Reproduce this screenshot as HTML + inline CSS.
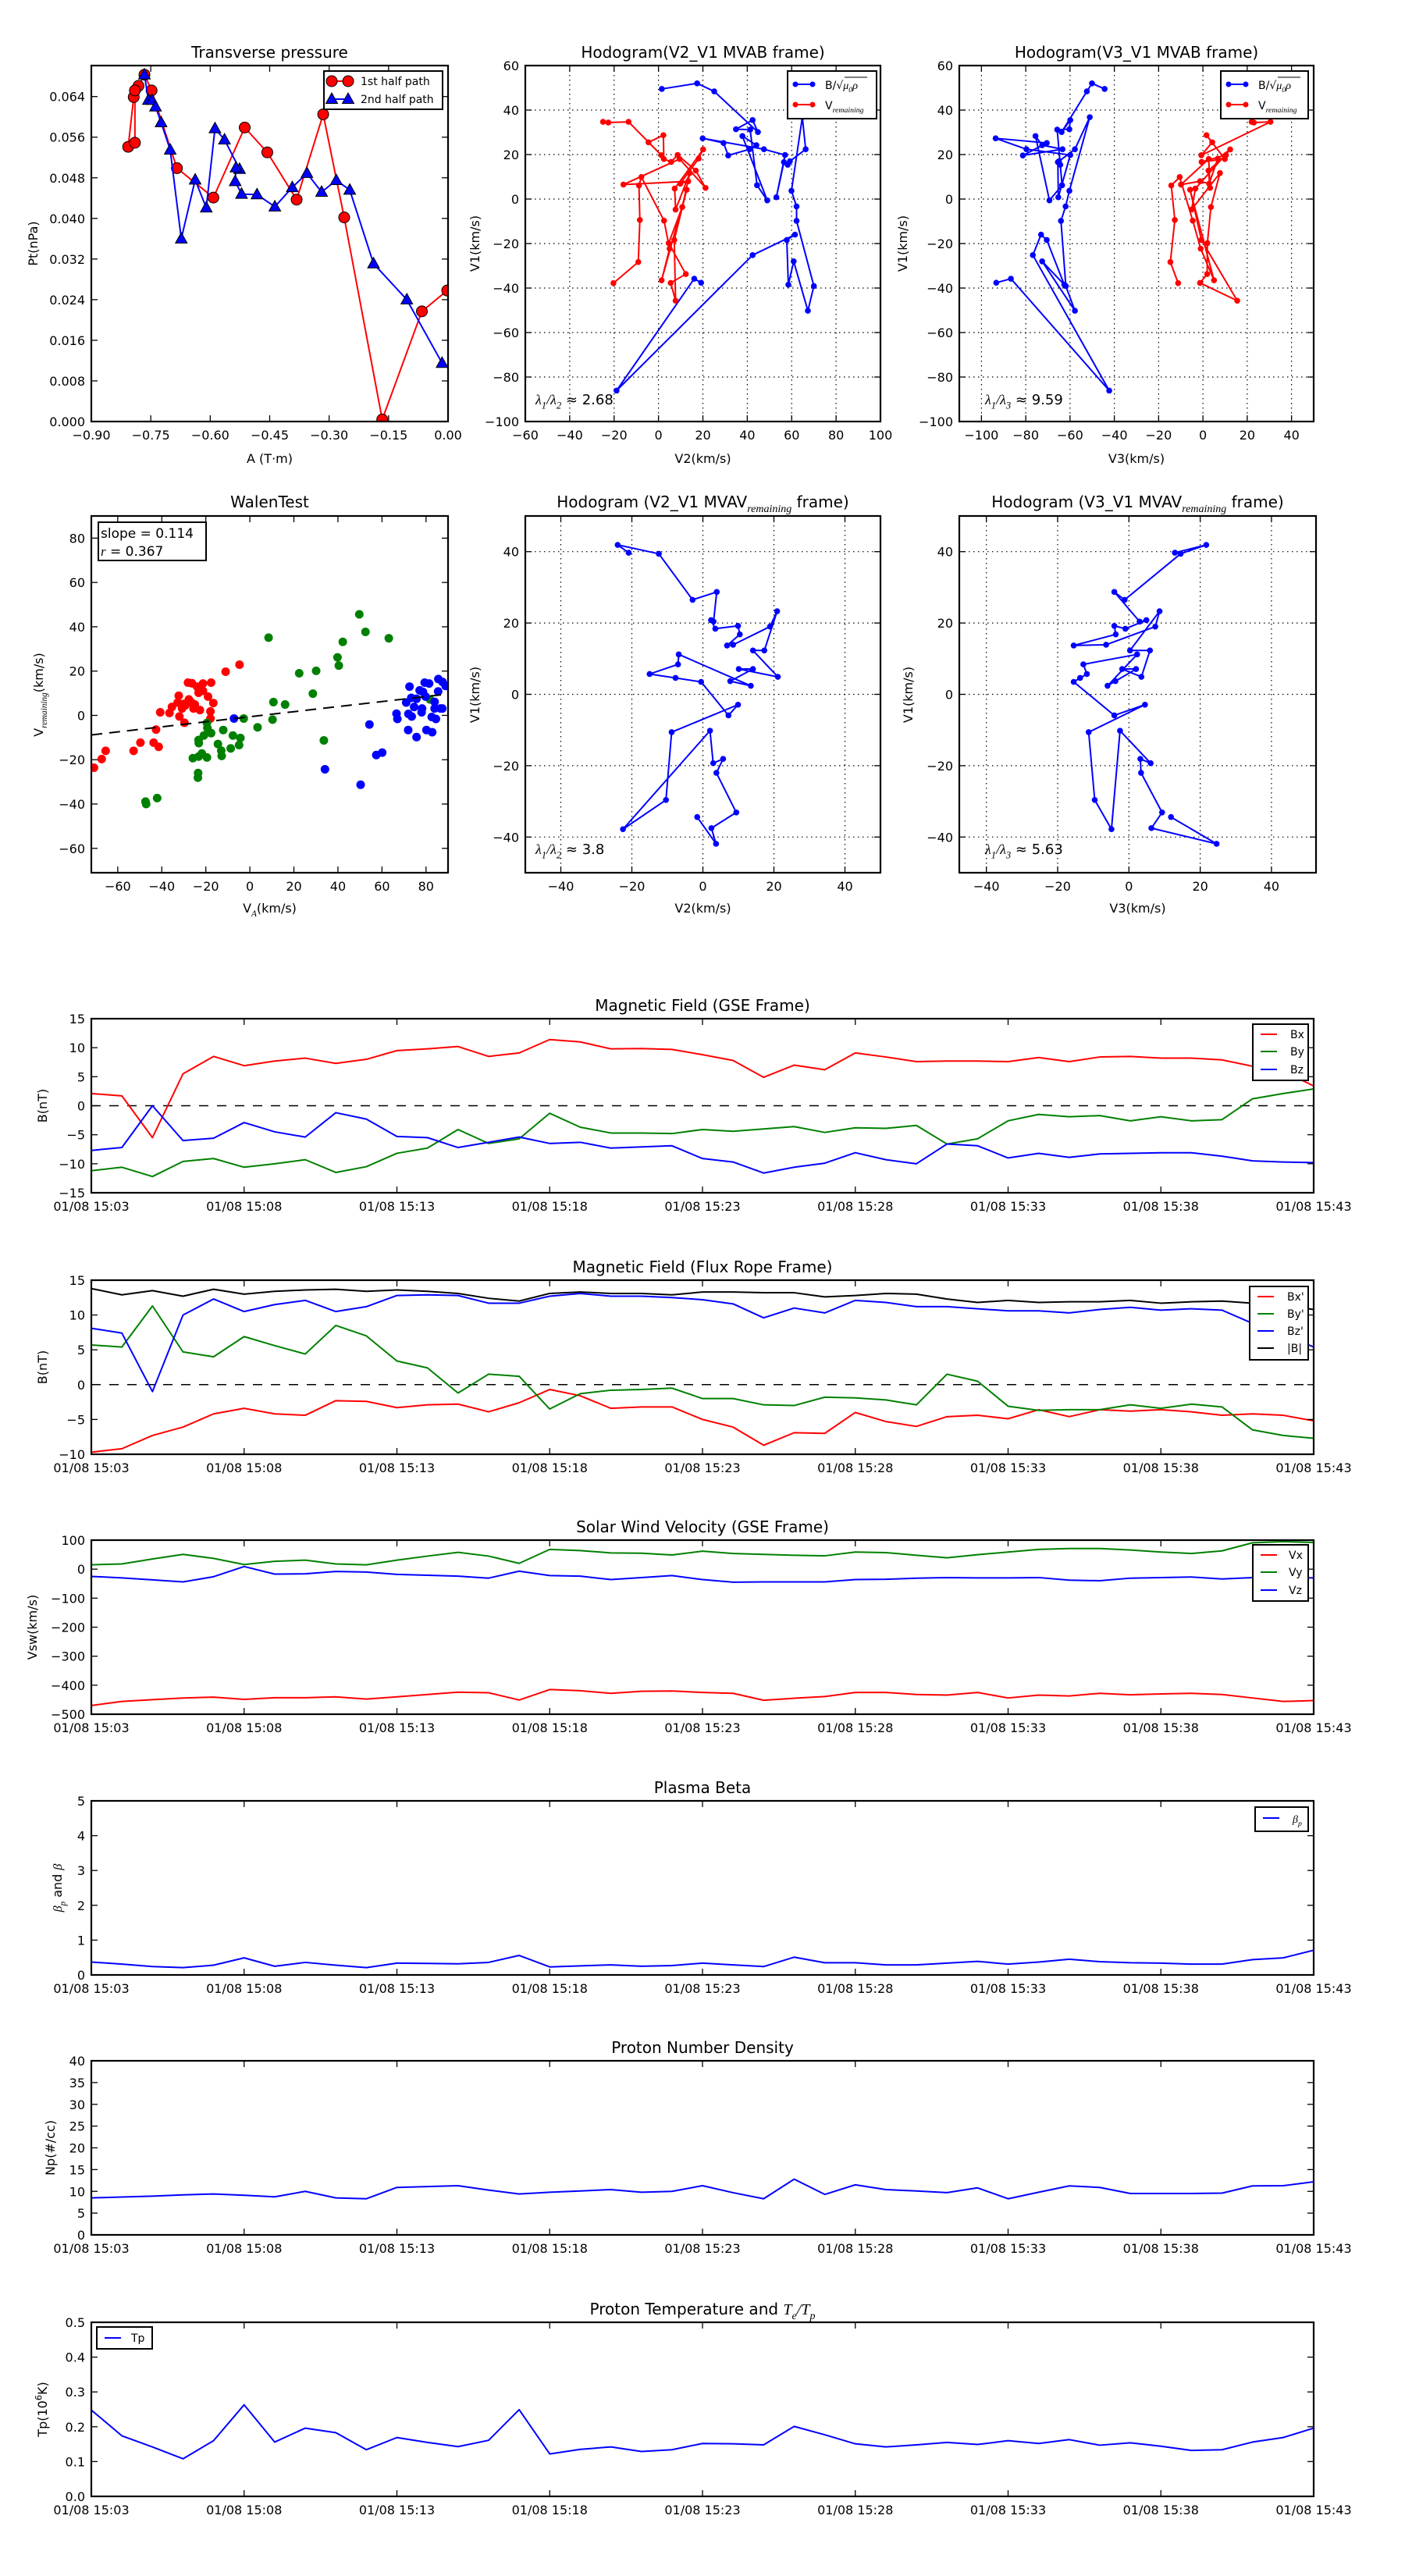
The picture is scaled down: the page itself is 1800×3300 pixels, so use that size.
<!DOCTYPE html>
<html><head><meta charset="utf-8">
<style>
html,body{margin:0;padding:0;background:#fff;}
svg{display:block;font-family:"DejaVu Sans","Liberation Sans",sans-serif;}
</style></head>
<body>
<svg id="fig" xmlns="http://www.w3.org/2000/svg" width="1800" height="3300" viewBox="0 0 1800 3300">
<rect x="0" y="0" width="1800" height="3300" fill="#fff"></rect>
</svg>
<script>
// ---------------- DATA ----------------
// Transverse pressure
const pt1A = [-0.002,-0.066,-0.166,-0.262,-0.315,-0.382,-0.456,-0.513,-0.592,-0.684,-0.748,-0.766,-0.781,-0.793,-0.807,-0.790,-0.790];
const pt1P = [0.0258,0.0217,0.0004,0.0402,0.0605,0.0437,0.0530,0.0579,0.0441,0.0499,0.0652,0.0683,0.0661,0.0639,0.0541,0.0549,0.0652];
const pt2A = [-0.766,-0.756,-0.747,-0.738,-0.724,-0.701,-0.673,-0.638,-0.610,-0.588,-0.564,-0.526,-0.535,-0.537,-0.521,-0.482,-0.437,-0.393,-0.356,-0.319,-0.282,-0.248,-0.188,-0.104,-0.015];
const pt2P = [0.0683,0.0633,0.0633,0.0620,0.0589,0.0535,0.0360,0.0476,0.0421,0.0577,0.0555,0.0497,0.0500,0.0473,0.0448,0.0447,0.0423,0.0461,0.0489,0.0452,0.0475,0.0456,0.0311,0.0240,0.0115];
const ptXTicks = [-0.90,-0.75,-0.60,-0.45,-0.30,-0.15,0.00];
const ptXLabels = ['\u22120.90','\u22120.75','\u22120.60','\u22120.45','\u22120.30','\u22120.15','0.00'];
const ptYTicks = [0,0.008,0.016,0.024,0.032,0.040,0.048,0.056,0.064];
const ptYLabels = ['0.000','0.008','0.016','0.024','0.032','0.040','0.048','0.056','0.064'];

// MVAB hodograms
const mvabBV1 = [49.5,52.0,48.4,30.1,35.5,31.4,31.2,6.2,-0.6,28.3,24.2,22.4,19.6,25.2,27.3,22.4,19.8,0.8,16.6,15.4,17.0,22.4,36.8,3.7,-3.3,-9.8,-39.1,-50.2,-28.0,-38.5,-18.4,-16.0,-25.2,-86.1,-35.8,-37.6];
const mvabBV2 = [1.5,17.4,25.1,44.8,42.4,34.9,41.3,44.4,49.0,37.8,44.1,41.0,31.4,29.3,19.9,47.5,57.0,53.1,56.5,58.2,59.2,66.3,64.8,59.9,62.2,62.2,70.0,67.3,60.9,58.5,57.8,61.5,42.4,-18.9,16.1,19.2];
const mvabBV3 = [-44.4,-50.1,-52.4,-63.8,-59.9,-60.3,-65.8,-63.6,-69.3,-75.6,-72.6,-63.4,-81.3,-70.5,-93.6,-79.7,-59.9,-65.3,-65.5,-64.4,-65.0,-57.8,-51.1,-60.3,-62.0,-64.1,-61.9,-57.8,-72.6,-62.6,-70.5,-73.1,-76.8,-42.3,-86.7,-93.3];
const mvabVV1 = [34.7,34.4,34.7,19.7,25.5,28.7,18.0,16.7,19.8,12.8,5.0,18.0,6.5,8.0,6.9,18.2,22.3,4.7,-4.7,11.7,-3.6,-19.8,-33.7,-37.7,-45.7,-18.4,4.2,-36.5,-22.3,-9.7,9.9,6.1,-9.4,-28.3,-37.8];
const mvabVV2 = [-25.0,-22.6,-13.5,1.3,-4.5,2.2,2.4,5.7,8.6,16.8,21.2,9.5,-15.8,13.4,9.8,18.1,20.1,7.3,7.7,14.1,10.7,4.6,12.3,5.5,7.7,7.1,12.7,1.4,5.0,2.5,-7.7,-8.8,-8.4,-9.1,-20.3];
const mvabVV3 = [22.0,23.0,30.5,-0.7,4.2,1.6,9.9,-0.6,10.4,2.5,3.2,2.6,-9.9,-1.3,2.8,6.7,12.3,-3.4,-5.1,7.7,3.6,2.0,1.9,-1.3,15.5,-0.7,-5.8,5.0,-1.0,-4.6,-10.5,-14.3,-12.7,-14.7,-11.2];

// MVAV hodograms
const mvavV1 = [39.7,41.9,39.4,26.5,28.7,20.4,20.8,18.4,19.2,16.8,13.7,13.9,19.0,23.3,12.3,12.3,4.9,7.1,7.1,3.7,2.4,11.2,8.4,5.7,4.6,3.5,-5.9,-2.9,-10.6,-29.6,-37.8,-10.2,-19.3,-18.1,-22.0,-33.1,-37.5,-41.9,-34.4];
const mvavV2 = [-20.9,-24.0,-12.4,-2.9,3.9,3.0,2.3,3.5,9.9,10.4,6.8,8.5,18.9,20.9,17.3,14.1,21.1,10.1,14.1,7.7,13.5,-6.8,-7.0,-15.0,-7.7,-0.5,7.2,9.9,-8.8,-10.4,-22.5,2.0,2.9,5.7,3.8,9.4,2.4,3.7,-1.6];
const mvavV3 = [12.9,21.7,14.5,-1.2,-4.1,3.0,4.9,-1.0,-4.1,-3.7,-15.5,-6.4,7.4,8.6,0.3,5.9,3.5,-1.9,2.0,-3.8,-6.0,2.3,-12.8,-11.8,-13.7,-15.5,-4.1,4.5,-11.3,-9.6,-4.9,-2.5,6.1,3.2,3.4,9.3,6.3,24.6,11.8];

// Walen test
const walenRedX = [-70.8,-67.3,-65.5,-52.8,-49.7,-43.7,-41.4,-42.6,-40.7,-36.5,-35.4,-32.3,-32.0,-29.7,-32.8,-30.1,-27.7,-28.1,-26.3,-24.0,-21.3,-17.6,-21.3,-23.3,-19.0,-16.6,-25.6,-22.7,-17.9,-17.9,-29.4,-25.0,-11.0,-4.7,-26.5,-30.8];
const walenRedY = [-23.6,-19.7,-16.0,-16.0,-12.3,-12.3,-14.2,-6.4,1.4,1.1,3.8,8.9,-0.5,-3.3,5.8,5.2,7.2,14.8,14.5,13.0,14.4,14.8,11.1,10.2,8.5,5.6,3.1,2.4,1.8,-1.4,4.5,4.9,19.7,22.9,5.8,3.1];
const walenGreenX = [-47.4,-47.1,-42.1,-23.6,-23.5,-25.9,-23.3,-21.8,-19.5,-23.2,-23.3,-20.9,-17.6,-19.5,-19.3,-14.5,-13.0,-12.8,-8.7,-7.7,-4.9,-4.3,-12.1,-2.8,3.5,8.5,10.7,10.3,16.0,22.4,30.1,28.6,33.6,39.8,40.4,42.2,49.7,52.5,63.1,81.8];
const walenGreenY = [-38.9,-40.0,-37.3,-28.1,-26.0,-19.3,-18.6,-17.2,-19.0,-12.5,-11.1,-9.1,-8.0,-3.4,-5.7,-12.9,-15.9,-18.3,-14.9,-9.1,-13.4,-10.2,-6.6,-1.4,-5.4,35.1,6.0,-1.9,4.9,19.0,20.1,9.8,-11.3,26.2,22.5,33.2,45.6,37.7,34.8,7.2];
const walenBlueX = [-7.2,34.1,50.3,54.3,57.4,60.1,66.6,67.0,71.0,71.9,72.0,72.5,73.5,73.3,75.7,74.6,77.1,78.6,79.4,81.4,78.2,78.0,80.2,82.8,82.6,84.5,83.9,85.5,85.6,83.9,87.4,87.5,88.9,75.7,79.8,86.6];
const walenBlueY = [-1.4,-24.3,-31.3,-4.1,-17.9,-16.8,0.8,-1.6,5.8,-6.6,0.7,13.0,-0.5,7.9,-9.8,3.8,11.3,10.6,14.8,14.4,3.1,1.4,-6.6,-7.6,-0.7,-1.6,6.1,10.8,16.4,3.1,3.1,15.1,13.3,7.5,8.5,3.1];
const walenSlope = [0.114];
const walenIntercept = [-0.6];

// Time series (1-min cadence, 15:03 .. 15:43)
const tsMinute = [0,1,2,3,4,5,6,7,8,9,10,11,12,13,14,15,16,17,18,19,20,21,22,23,24,25,26,27,28,29,30,31,32,33,34,35,36,37,38,39,40];
const tsTickIdx = [0,5,10,15,20,25,30,35,40];
const tsTickLabels = ['01/08 15:03','01/08 15:08','01/08 15:13','01/08 15:18','01/08 15:23','01/08 15:28','01/08 15:33','01/08 15:38','01/08 15:43'];
const gseBx = [2.1,1.7,-5.5,5.5,8.5,6.9,7.7,8.2,7.3,8.0,9.5,9.8,10.2,8.5,9.1,11.4,11.0,9.8,9.85,9.7,8.8,7.8,4.9,7.0,6.2,9.1,8.4,7.6,7.7,7.7,7.6,8.3,7.6,8.4,8.5,8.2,8.2,7.9,6.8,6.0,3.4];
const gseBy = [-11.2,-10.6,-12.2,-9.6,-9.1,-10.6,-10.0,-9.3,-11.5,-10.5,-8.2,-7.3,-4.1,-6.5,-5.7,-1.3,-3.7,-4.7,-4.7,-4.8,-4.1,-4.4,-4.0,-3.6,-4.6,-3.8,-3.9,-3.4,-6.6,-5.7,-2.6,-1.5,-1.9,-1.7,-2.6,-1.9,-2.6,-2.4,1.2,2.1,2.9];
const gseBz = [-7.7,-7.2,0,-6.0,-5.6,-2.9,-4.5,-5.4,-1.2,-2.3,-5.3,-5.5,-7.2,-6.3,-5.4,-6.5,-6.3,-7.3,-7.1,-6.9,-9.1,-9.7,-11.6,-10.6,-9.9,-8.1,-9.3,-10.0,-6.6,-6.9,-9.0,-8.2,-8.9,-8.3,-8.2,-8.1,-8.1,-8.7,-9.5,-9.7,-9.8];
const frBx = [-9.7,-9.2,-7.3,-6.1,-4.2,-3.4,-4.2,-4.4,-2.3,-2.4,-3.3,-2.9,-2.8,-3.9,-2.6,-0.7,-1.6,-3.4,-3.2,-3.2,-5.0,-6.1,-8.7,-6.9,-7.0,-4.0,-5.3,-6.0,-4.6,-4.4,-4.9,-3.6,-4.6,-3.6,-3.8,-3.6,-3.9,-4.4,-4.2,-4.4,-5.2];
const frBy = [5.7,5.4,11.3,4.7,4.0,6.9,5.6,4.4,8.5,7.0,3.4,2.4,-1.2,1.5,1.2,-3.5,-1.3,-0.8,-0.7,-0.5,-2.0,-2.0,-2.9,-3.0,-1.8,-1.9,-2.2,-2.9,1.5,0.5,-3.1,-3.7,-3.6,-3.6,-2.9,-3.4,-2.8,-3.2,-6.5,-7.3,-7.7];
const frBz = [8.1,7.4,-1.0,10.0,12.3,10.5,11.5,12.1,10.5,11.2,12.8,12.9,12.8,11.7,11.7,12.7,13.1,12.7,12.7,12.5,12.2,11.6,9.6,11.0,10.3,12.1,11.8,11.2,11.2,10.9,10.6,10.6,10.3,10.8,11.1,10.7,10.9,10.7,8.8,7.2,5.4];
const frBt = [13.8,12.9,13.5,12.7,13.7,13.0,13.4,13.6,13.7,13.4,13.6,13.4,13.1,12.4,12.0,13.1,13.3,13.1,13.1,12.9,13.3,13.3,13.2,13.2,12.6,12.8,13.1,13.0,12.3,11.8,12.1,11.8,11.9,11.9,12.1,11.7,11.9,12.0,11.7,11.4,10.8];
const swVx = [-470,-456,-450,-444,-441,-449,-443,-443,-440,-448,-440,-432,-424,-426,-451,-415,-419,-428,-421,-420,-425,-428,-452,-445,-439,-425,-425,-432,-434,-425,-444,-434,-437,-428,-433,-430,-428,-432,-444,-456,-453];
const swVy = [15,18,35,51,37,16,27,31,18,15,31,45,58,45,20,68,64,56,55,49,62,54,51,48,46,59,57,48,39,50,59,68,71,71,66,59,54,63,91,95,92];
const swVz = [-25,-30,-37,-44,-26,9,-17,-16,-8,-10,-18,-21,-24,-31,-7,-22,-24,-36,-29,-22,-36,-45,-44,-44,-44,-36,-35,-31,-29,-30,-30,-29,-38,-40,-31,-29,-27,-34,-29,-29,-30];
const betaP = [0.37,0.31,0.24,0.21,0.28,0.49,0.25,0.36,0.28,0.21,0.34,0.33,0.32,0.36,0.56,0.23,0.26,0.29,0.25,0.27,0.34,0.29,0.24,0.51,0.35,0.35,0.29,0.29,0.34,0.39,0.31,0.37,0.45,0.38,0.35,0.34,0.31,0.31,0.44,0.49,0.71];
const densNp = [8.5,8.7,8.9,9.2,9.4,9.1,8.75,10.0,8.5,8.3,10.9,11.1,11.3,10.3,9.4,9.8,10.1,10.4,9.8,10.0,11.3,9.7,8.3,12.8,9.3,11.5,10.4,10.1,9.7,10.8,8.3,9.8,11.25,10.9,9.5,9.5,9.5,9.6,11.25,11.3,12.2];
const tempTp = [0.248,0.174,0.142,0.108,0.160,0.263,0.156,0.196,0.183,0.134,0.169,0.155,0.143,0.161,0.249,0.122,0.135,0.142,0.129,0.134,0.152,0.151,0.148,0.201,0.177,0.151,0.142,0.148,0.155,0.149,0.160,0.152,0.163,0.147,0.154,0.144,0.132,0.134,0.156,0.169,0.196];

// ---------------- DRAWING ----------------
const NS = 'http://www.w3.org/2000/svg';
const svg = document.getElementById('fig');
function make(tag, attrs, parent){
  const e = document.createElementNS(NS, tag);
  for (const k in attrs) e.setAttribute(k, attrs[k]);
  parent.appendChild(e);
  return e;
}
const RED='#ff0000', GREEN='#008000', BLUE='#0000ff';
let clipCount = 0;

function setupPanel(name, box, xr, yr){
  const g = make('g', {}, svg);
  
  
  const sx = v => box.x + (v - xr[0]) / (xr[1] - xr[0]) * box.w;
  const sy = v => box.y + box.h - (v - yr[0]) / (yr[1] - yr[0]) * box.h;
  const id = 'clip' + (clipCount++);
  const cp = make('clipPath', {id: id}, g);
  make('rect', {x: box.x, y: box.y, width: box.w, height: box.h}, cp);
  const grid = make('g', {}, g);
  
  
  const plot = make('g', {'clip-path': 'url(#' + id + ')'}, g);
  
  
  return {g, grid, plot, sx, sy, box};
}

function text(parent, x, y, str, size, anchor, name){
  const t = make('text', {x: x, y: y, 'font-size': size, 'text-anchor': anchor || 'middle', fill: '#000'}, parent);
  t.textContent = str;
  
  
  return t;
}

// parts: array of [string, style] where style in '', 'sub', 'it', 'subit', 'sup'
function rich(parent, x, y, parts, size, anchor, name, rotate){
  const attrs = {x: x, y: y, 'font-size': size, 'text-anchor': anchor || 'middle', fill: '#000'};
  if (rotate) attrs.transform = 'rotate(-90 ' + x + ' ' + y + ')';
  const t = make('text', attrs, parent);
  
  
  let shift = 0;
  parts.forEach(p => {
    const s = p[1] || '';
    const a = {};
    let target = 0;
    if (s.indexOf('sub') >= 0){ target = size * 0.3; a['font-size'] = size * 0.7; }
    if (s.indexOf('sup') >= 0){ target = -size * 0.4; a['font-size'] = size * 0.7; }
    if (s.indexOf('it') >= 0){ a['font-style'] = 'italic'; a['font-family'] = '"Liberation Serif", serif'; }
    a.dy = target - shift;
    shift = target;
    const ts = make('tspan', a, t);
    ts.textContent = p[0];
  });
  return t;
}

function finishPanel(P, o){
  const b = P.box;
  const tl = 8;
  if (o.grid){
    o.xticks.forEach(v => {
      const x = P.sx(v);
      const l = make('line', {x1: x, x2: x, y1: b.y, y2: b.y + b.h, stroke: '#000', 'stroke-width': 1.2, 'stroke-dasharray': '1.5,4.5'}, P.grid);
      
      
    });
    o.yticks.forEach(v => {
      const y = P.sy(v);
      const l = make('line', {x1: b.x, x2: b.x + b.w, y1: y, y2: y, stroke: '#000', 'stroke-width': 1.2, 'stroke-dasharray': '1.5,4.5'}, P.grid);
      
      
    });
  }
  const ax = make('g', {}, P.g);
  
  
  o.xticks.forEach((v, i) => {
    const x = P.sx(v);
    const t1 = make('line', {x1: x, x2: x, y1: b.y + b.h, y2: b.y + b.h - tl, stroke: '#000', 'stroke-width': 1.3}, ax);
    
    
    const t2 = make('line', {x1: x, x2: x, y1: b.y, y2: b.y + tl, stroke: '#000', 'stroke-width': 1.3}, ax);
    
    
    text(ax, x, b.y + b.h + 23, o.xlabels[i], 16, 'middle', 'x-tick-label');
  });
  o.yticks.forEach((v, i) => {
    const y = P.sy(v);
    const t1 = make('line', {x1: b.x, x2: b.x + tl, y1: y, y2: y, stroke: '#000', 'stroke-width': 1.3}, ax);
    
    
    const t2 = make('line', {x1: b.x + b.w, x2: b.x + b.w - tl, y1: y, y2: y, stroke: '#000', 'stroke-width': 1.3}, ax);
    
    
    text(ax, b.x - 8, y + 6, o.ylabels[i], 16, 'end', 'y-tick-label');
  });
  const fr = make('rect', {x: b.x, y: b.y, width: b.w, height: b.h, fill: 'none', stroke: '#000', 'stroke-width': 2.2}, ax);
  
  
}

function line(P, xs, ys, color, width, name, dash){
  const pts = xs.map((x, i) => P.sx(x).toFixed(2) + ',' + P.sy(ys[i]).toFixed(2)).join(' ');
  const a = {points: pts, fill: 'none', stroke: color, 'stroke-width': width, 'stroke-linejoin': 'round'};
  if (dash) a['stroke-dasharray'] = dash;
  const pl = make('polyline', a, P.plot);
  
  
  return pl;
}
function dots(P, xs, ys, color, r, name, stroke){
  const g = make('g', {}, P.plot);
  
  
  xs.forEach((x, i) => {
    const a = {cx: P.sx(x), cy: P.sy(ys[i]), r: r, fill: color};
    if (stroke){ a.stroke = '#000'; a['stroke-width'] = 1; }
    const c = make('circle', a, g);
    
    
  });
}
function tris(P, xs, ys, color, name){
  const g = make('g', {}, P.plot);
  
  
  xs.forEach((x, i) => {
    const cx = P.sx(x), cy = P.sy(ys[i]);
    const p = make('polygon', {points: cx + ',' + (cy - 8) + ' ' + (cx + 7.5) + ',' + (cy + 5.5) + ' ' + (cx - 7.5) + ',' + (cy + 5.5), fill: color, stroke: '#000', 'stroke-width': 1}, g);
    
    
  });
}
function legendBox(x, y, w, h, name){
  const g = make('g', {}, svg);
  
  
  const r = make('rect', {x: x, y: y, width: w, height: h, fill: '#fff', stroke: '#000', 'stroke-width': 2}, g);
  
  
  return g;
}
function legendLine(g, x1, x2, y, color, name, marker){
  const l = make('line', {x1: x1, x2: x2, y1: y, y2: y, stroke: color, 'stroke-width': 2}, g);
  
  
  if (marker === 'dot'){
    [x1, x2].forEach(xx => { const c = make('circle', {cx: xx, cy: y, r: 3.5, fill: color}, g);   });
  } else if (marker === 'circle'){
    [x1, x2].forEach(xx => { const c = make('circle', {cx: xx, cy: y, r: 7, fill: color, stroke: '#000', 'stroke-width': 1}, g);   });
  } else if (marker === 'tri'){
    [x1, x2].forEach(xx => { const p = make('polygon', {points: xx + ',' + (y - 8) + ' ' + (xx + 7.5) + ',' + (y + 5.5) + ' ' + (xx - 7.5) + ',' + (y + 5.5), fill: color, stroke: '#000', 'stroke-width': 1}, g);   });
  }
}

const ticks20 = (arr) => arr.map(v => v < 0 ? '\u2212' + Math.abs(v) : String(v));

// ---- Panel 1: Transverse pressure ----
(function(){
  const box = {x: 117, y: 84, w: 457, h: 456};
  const P = setupPanel('transverse-pressure-chart', box, [-0.9, 0], [0, 0.0701]);
  line(P, pt1A, pt1P, RED, 2, 'first-half-path-line');
  dots(P, pt1A, pt1P, RED, 7, 'first-half-path', true);
  line(P, pt2A, pt2P, BLUE, 2, 'second-half-path-line');
  tris(P, pt2A, pt2P, BLUE, 'second-half-path');
  finishPanel(P, {xticks: ptXTicks, xlabels: ptXLabels, yticks: ptYTicks, ylabels: ptYLabels});
  text(P.g, box.x + box.w / 2, 74, 'Transverse pressure', 20, 'middle', 'chart-title');
  text(P.g, box.x + box.w / 2, 593, 'A (T\u00b7m)', 16, 'middle', 'x-axis-title');
  rich(P.g, 48, 312, [['Pt(nPa)', '']], 16, 'middle', 'y-axis-title', true);
  const L = legendBox(415, 91, 152, 49, 'pressure-legend');
  legendLine(L, 425, 446, 104, RED, 'legend-first-half', 'circle');
  text(L, 462, 109, '1st half path', 14, 'start', 'legend-label-first-half');
  legendLine(L, 425, 446, 127, BLUE, 'legend-second-half', 'tri');
  text(L, 462, 132, '2nd half path', 14, 'start', 'legend-label-second-half');
})();

function hodoLegend(x, w, name){
  const L = legendBox(x, 91, w, 61, name);
  legendLine(L, x + 10, x + 32, 108, BLUE, 'legend-b-alfven', 'dot');
  rich(L, x + 48, 114, [['B/\u221a', ''], ['\u03bc', 'it'], ['0', 'subit'], ['\u03c1', 'it']], 14, 'start', 'legend-label-b-alfven');
  const ol = make('line', {x1: x + 73, x2: x + 102, y1: 99, y2: 99, stroke: '#000', 'stroke-width': 1}, L);
  
  
  legendLine(L, x + 10, x + 32, 134, RED, 'legend-v-remaining', 'dot');
  rich(L, x + 48, 140, [['V', ''], ['remaining', 'subit']], 14, 'start', 'legend-label-v-remaining');
}

// ---- Panel 2: Hodogram V2_V1 MVAB ----
(function(){
  const box = {x: 673, y: 84, w: 455, h: 456};
  const P = setupPanel('hodogram-v2-v1-mvab', box, [-60, 100], [-100, 60]);
  const xt = [-60,-40,-20,0,20,40,60,80,100], yt = [-100,-80,-60,-40,-20,0,20,40,60];
  line(P, mvabBV2, mvabBV1, BLUE, 2, 'b-alfven-path');
  dots(P, mvabBV2, mvabBV1, BLUE, 3.8, 'b-alfven');
  line(P, mvabVV2, mvabVV1, RED, 2, 'v-remaining-path');
  dots(P, mvabVV2, mvabVV1, RED, 3.8, 'v-remaining');
  finishPanel(P, {grid: true, xticks: xt, xlabels: ticks20(xt), yticks: yt, ylabels: ticks20(yt)});
  text(P.g, box.x + box.w / 2, 74, 'Hodogram(V2_V1 MVAB frame)', 20, 'middle', 'chart-title');
  text(P.g, box.x + box.w / 2, 593, 'V2(km/s)', 16, 'middle', 'x-axis-title');
  rich(P.g, 614, 312, [['V1(km/s)', '']], 16, 'middle', 'y-axis-title', true);
  rich(P.g, 686, 518, [['\u03bb', 'it'], ['1', 'subit'], ['/', 'it'], ['\u03bb', 'it'], ['2', 'subit'], [' \u2248 2.68', '']], 18, 'start', 'eigenvalue-ratio');
  hodoLegend(1009, 114, 'hodogram-v2-legend');
})();

// ---- Panel 3: Hodogram V3_V1 MVAB ----
(function(){
  const box = {x: 1229, y: 84, w: 454, h: 456};
  const P = setupPanel('hodogram-v3-v1-mvab', box, [-110, 50], [-100, 60]);
  const xt = [-100,-80,-60,-40,-20,0,20,40], yt = [-100,-80,-60,-40,-20,0,20,40,60];
  line(P, mvabBV3, mvabBV1, BLUE, 2, 'b-alfven-path');
  dots(P, mvabBV3, mvabBV1, BLUE, 3.8, 'b-alfven');
  line(P, mvabVV3, mvabVV1, RED, 2, 'v-remaining-path');
  dots(P, mvabVV3, mvabVV1, RED, 3.8, 'v-remaining');
  finishPanel(P, {grid: true, xticks: xt, xlabels: ticks20(xt), yticks: yt, ylabels: ticks20(yt)});
  text(P.g, box.x + box.w / 2, 74, 'Hodogram(V3_V1 MVAB frame)', 20, 'middle', 'chart-title');
  text(P.g, box.x + box.w / 2, 593, 'V3(km/s)', 16, 'middle', 'x-axis-title');
  rich(P.g, 1162, 312, [['V1(km/s)', '']], 16, 'middle', 'y-axis-title', true);
  rich(P.g, 1262, 518, [['\u03bb', 'it'], ['1', 'subit'], ['/', 'it'], ['\u03bb', 'it'], ['3', 'subit'], [' \u2248 9.59', '']], 18, 'start', 'eigenvalue-ratio');
  hodoLegend(1564, 112, 'hodogram-v3-legend');
})();

// ---- Walen test ----
(function(){
  const box = {x: 117, y: 661, w: 457, h: 457};
  const P = setupPanel('walen-test-chart', box, [-72, 90], [-71, 90]);
  const xt = [-60,-40,-20,0,20,40,60,80], yt = [-60,-40,-20,0,20,40,60,80];
  dots(P, walenRedX, walenRedY, RED, 5.5, 'walen-red');
  dots(P, walenGreenX, walenGreenY, GREEN, 5.5, 'walen-green');
  dots(P, walenBlueX, walenBlueY, BLUE, 5.5, 'walen-blue');
  const fx = [-72, 90];
  const fy = fx.map(x => walenSlope[0] * x + walenIntercept[0]);
  line(P, fx, fy, '#000', 2, 'walen-fit-line', '14,9');
  finishPanel(P, {xticks: xt, xlabels: ticks20(xt), yticks: yt, ylabels: ticks20(yt)});
  text(P.g, box.x + box.w / 2, 650, 'WalenTest', 20, 'middle', 'chart-title');
  rich(P.g, box.x + box.w / 2, 1169, [['V', ''], ['A', 'subit'], ['(km/s)', '']], 16, 'middle', 'x-axis-title');
  rich(P.g, 55, 890, [['V', ''], ['remaining', 'subit'], ['(km/s)', '']], 16, 'middle', 'y-axis-title', true);
  const r = make('rect', {x: 126, y: 669, width: 138, height: 49, fill: '#fff', stroke: '#000', 'stroke-width': 2}, P.g);
  
  
  text(P.g, 129, 689, 'slope = 0.114', 17, 'start', 'slope-label');
  rich(P.g, 129, 712, [['r', 'it'], [' = 0.367', '']], 17, 'start', 'correlation-label');
})();

// ---- MVAV hodograms ----
(function(){
  const box = {x: 673, y: 661, w: 455, h: 457};
  const P = setupPanel('hodogram-v2-v1-mvav', box, [-50, 50], [-50, 50]);
  const xt = [-40,-20,0,20,40], yt = [-40,-20,0,20,40];
  line(P, mvavV2, mvavV1, BLUE, 2, 'v-remaining-path');
  dots(P, mvavV2, mvavV1, BLUE, 3.8, 'v-remaining');
  finishPanel(P, {grid: true, xticks: xt, xlabels: ticks20(xt), yticks: yt, ylabels: ticks20(yt)});
  rich(P.g, box.x + box.w / 2, 650, [['Hodogram (V2_V1 MVAV', ''], ['remaining', 'subit'], [' frame)', '']], 20, 'middle', 'chart-title');
  text(P.g, box.x + box.w / 2, 1169, 'V2(km/s)', 16, 'middle', 'x-axis-title');
  rich(P.g, 614, 890, [['V1(km/s)', '']], 16, 'middle', 'y-axis-title', true);
  rich(P.g, 686, 1094, [['\u03bb', 'it'], ['1', 'subit'], ['/', 'it'], ['\u03bb', 'it'], ['2', 'subit'], [' \u2248 3.8', '']], 18, 'start', 'eigenvalue-ratio');
})();
(function(){
  const box = {x: 1229, y: 661, w: 457, h: 457};
  const P = setupPanel('hodogram-v3-v1-mvav', box, [-47.6, 52.5], [-50, 50]);
  const xt = [-40,-20,0,20,40], yt = [-40,-20,0,20,40];
  line(P, mvavV3, mvavV1, BLUE, 2, 'v-remaining-path');
  dots(P, mvavV3, mvavV1, BLUE, 3.8, 'v-remaining');
  finishPanel(P, {grid: true, xticks: xt, xlabels: ticks20(xt), yticks: yt, ylabels: ticks20(yt)});
  rich(P.g, box.x + box.w / 2, 650, [['Hodogram (V3_V1 MVAV', ''], ['remaining', 'subit'], [' frame)', '']], 20, 'middle', 'chart-title');
  text(P.g, box.x + box.w / 2, 1169, 'V3(km/s)', 16, 'middle', 'x-axis-title');
  rich(P.g, 1169, 890, [['V1(km/s)', '']], 16, 'middle', 'y-axis-title', true);
  rich(P.g, 1262, 1094, [['\u03bb', 'it'], ['1', 'subit'], ['/', 'it'], ['\u03bb', 'it'], ['3', 'subit'], [' \u2248 5.63', '']], 18, 'start', 'eigenvalue-ratio');
})();

// ---- Time series ----
function tsPanel(name, top, yr, yt, ylab){
  const box = {x: 117, y: top, w: 1566, h: 223};
  const P = setupPanel(name, box, [0, 40], yr);
  P.yt = yt; P.ylab = ylab;
  return P;
}
function tsFinish(P, title, ylabelParts, ylx){
  finishPanel(P, {xticks: tsTickIdx, xlabels: tsTickLabels, yticks: P.yt, ylabels: P.ylab});
  if (typeof title === 'string') text(P.g, P.box.x + P.box.w / 2, P.box.y - 10, title, 20, 'middle', 'chart-title');
  else rich(P.g, P.box.x + P.box.w / 2, P.box.y - 10, title, 20, 'middle', 'chart-title');
  rich(P.g, ylx, P.box.y + P.box.h / 2, ylabelParts, 16, 'middle', 'y-axis-title', true);
}
function zeroLine(P){
  const l = make('line', {x1: P.box.x, x2: P.box.x + P.box.w, y1: P.sy(0), y2: P.sy(0), stroke: '#000', 'stroke-width': 1.5, 'stroke-dasharray': '12,11'}, P.plot);
  
  
}

(function(){
  const yt = [-15,-10,-5,0,5,10,15];
  const P = tsPanel('magnetic-field-gse-chart', 1305, [-15, 15], yt, ticks20(yt));
  zeroLine(P);
  line(P, tsMinute, gseBx, RED, 2, 'series-bx');
  line(P, tsMinute, gseBy, GREEN, 2, 'series-by');
  line(P, tsMinute, gseBz, BLUE, 2, 'series-bz');
  tsFinish(P, 'Magnetic Field (GSE Frame)', [['B(nT)', '']], 60);
  const L = legendBox(1605, 1312, 71, 72, 'gse-legend');
  legendLine(L, 1615, 1636, 1325, RED, 'legend-bx');
  text(L, 1653, 1330, 'Bx', 14, 'start', 'legend-label-bx');
  legendLine(L, 1615, 1636, 1347, GREEN, 'legend-by');
  text(L, 1653, 1352, 'By', 14, 'start', 'legend-label-by');
  legendLine(L, 1615, 1636, 1370, BLUE, 'legend-bz');
  text(L, 1653, 1375, 'Bz', 14, 'start', 'legend-label-bz');
})();

(function(){
  const yt = [-10,-5,0,5,10,15];
  const P = tsPanel('magnetic-field-flux-rope-chart', 1640, [-10, 15], yt, ticks20(yt));
  zeroLine(P);
  line(P, tsMinute, frBx, RED, 2, 'series-bx-prime');
  line(P, tsMinute, frBy, GREEN, 2, 'series-by-prime');
  line(P, tsMinute, frBz, BLUE, 2, 'series-bz-prime');
  line(P, tsMinute, frBt, '#000', 2, 'series-b-magnitude');
  tsFinish(P, 'Magnetic Field (Flux Rope Frame)', [['B(nT)', '']], 60);
  const L = legendBox(1601, 1648, 75, 94, 'flux-rope-legend');
  legendLine(L, 1611, 1632, 1661, RED, 'legend-bx-prime');
  text(L, 1649, 1666, "Bx'", 14, 'start', 'legend-label-bx-prime');
  legendLine(L, 1611, 1632, 1683, GREEN, 'legend-by-prime');
  text(L, 1649, 1688, "By'", 14, 'start', 'legend-label-by-prime');
  legendLine(L, 1611, 1632, 1705, BLUE, 'legend-bz-prime');
  text(L, 1649, 1710, "Bz'", 14, 'start', 'legend-label-bz-prime');
  legendLine(L, 1611, 1632, 1727, '#000', 'legend-b-magnitude');
  text(L, 1649, 1732, '|B|', 14, 'start', 'legend-label-b-magnitude');
})();

(function(){
  const yt = [-500,-400,-300,-200,-100,0,100];
  const P = tsPanel('solar-wind-velocity-chart', 1973, [-500, 100], yt, ticks20(yt));
  line(P, tsMinute, swVx, RED, 2, 'series-vx');
  line(P, tsMinute, swVy, GREEN, 2, 'series-vy');
  line(P, tsMinute, swVz, BLUE, 2, 'series-vz');
  tsFinish(P, 'Solar Wind Velocity (GSE Frame)', [['Vsw(km/s)', '']], 47);
  const L = legendBox(1605, 1979, 71, 72, 'velocity-legend');
  legendLine(L, 1615, 1636, 1992, RED, 'legend-vx');
  text(L, 1651, 1997, 'Vx', 14, 'start', 'legend-label-vx');
  legendLine(L, 1615, 1636, 2014, GREEN, 'legend-vy');
  text(L, 1651, 2019, 'Vy', 14, 'start', 'legend-label-vy');
  legendLine(L, 1615, 1636, 2037, BLUE, 'legend-vz');
  text(L, 1651, 2042, 'Vz', 14, 'start', 'legend-label-vz');
})();

(function(){
  const yt = [0,1,2,3,4,5];
  const P = tsPanel('plasma-beta-chart', 2307, [0, 5], yt, yt.map(String));
  line(P, tsMinute, betaP, BLUE, 2, 'series-beta-p');
  tsFinish(P, 'Plasma Beta', [['\u03b2', 'it'], ['p', 'subit'], [' and ', ''], ['\u03b2', 'it']], 79);
  const L = legendBox(1608, 2315, 68, 31, 'beta-legend');
  legendLine(L, 1618, 1639, 2329, BLUE, 'legend-beta-p');
  rich(L, 1656, 2335, [['\u03b2', 'it'], ['p', 'subit']], 14, 'start', 'legend-label-beta-p');
})();

(function(){
  const yt = [0,5,10,15,20,25,30,35,40];
  const P = tsPanel('proton-density-chart', 2640, [0, 40], yt, yt.map(String));
  line(P, tsMinute, densNp, BLUE, 2, 'series-np');
  tsFinish(P, 'Proton Number Density', [['Np(#/cc)', '']], 70);
})();

(function(){
  const yt = [0,0.1,0.2,0.3,0.4,0.5];
  const P = tsPanel('proton-temperature-chart', 2975, [0, 0.5], yt, yt.map(v => v.toFixed(1)));
  line(P, tsMinute, tempTp, BLUE, 2, 'series-tp');
  tsFinish(P, [['Proton Temperature and ', ''], ['T', 'it'], ['e', 'subit'], ['/', 'it'], ['T', 'it'], ['p', 'subit']], [['Tp(10', ''], ['6', 'sup'], ['K)', '']], 60);
  const L = legendBox(124, 2981, 71, 28, 'temperature-legend');
  legendLine(L, 134, 155, 2995, BLUE, 'legend-tp');
  text(L, 168, 3000, 'Tp', 14, 'start', 'legend-label-tp');
})();
</script>
</body></html>
